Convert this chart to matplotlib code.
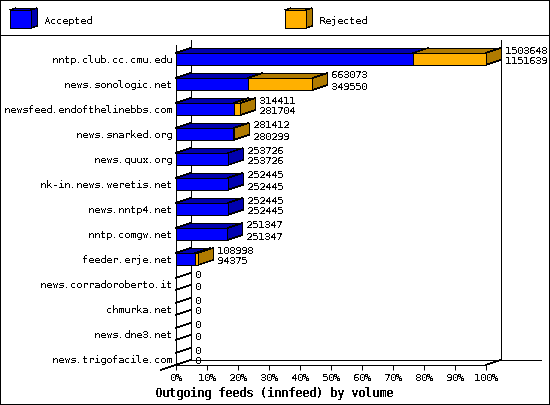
import matplotlib
matplotlib.use('Agg')
from matplotlib import pyplot as plt
from matplotlib.patches import Polygon, Rectangle
import numpy as np

hosts = ["nntp.club.cc.cmu.edu", "news.sonologic.net", "newsfeed.endofthelinebbs.com",
         "news.snarked.org", "news.quux.org", "nk-in.news.weretis.net", "news.nntp4.net",
         "nntp.comgw.net", "feeder.erje.net", "news.corradoroberto.it", "chmurka.net",
         "news.dne3.net", "news.trigofacile.com"]
totals = [1503648, 663073, 314411, 281412, 253726, 252445, 252445, 251347, 108998, 0, 0, 0, 0]
accepted = [1151639, 349550, 281704, 280299, 253726, 252445, 252445, 251347, 94375, 0, 0, 0, 0]
pct_ticks = [0, 10, 20, 30, 40, 50, 60, 70, 80, 90, 100]
legend_names = ["Accepted", "Rejected"]
title = "Outgoing feeds (innfeed) by volume"

BLUE = "#0000ff"
BLUE_D = "#0000b0"
ORANGE = "#ffb000"
ORANGE_D = "#b07b00"

plt.rcParams['font.family'] = ['DejaVu Sans Mono']
plt.rcParams['text.antialiased'] = False
plt.rcParams['text.hinting'] = 'native'
plt.rcParams['text.hinting_factor'] = 1
plt.rcParams['lines.antialiased'] = False
plt.rcParams['patch.antialiased'] = False
plt.rcParams['lines.solid_capstyle'] = 'butt'

W, H = 550, 405
LW = 0.72
SLANT = 0.35
fig = plt.figure(figsize=(W / 100, H / 100), dpi=100, facecolor="white")


def face(axes, pts, color, z=2):
    # fill without outline, then one line per edge so that flat edges snap to a single pixel
    axes.add_patch(Polygon(pts, fc=color, ec="none", zorder=z, clip_on=False))
    for (x0, y0), (x1, y1) in zip(pts, pts[1:] + pts[:1]):
        flat = x0 == x1 or y0 == y1
        axes.plot([x0, x1], [y0, y1], color="black", lw=LW if flat else SLANT, zorder=z, clip_on=False)


# frame and legend are laid out in pixels
bg = fig.add_axes([0, 0, 1, 1])
bg.set_xlim(0, W)
bg.set_ylim(H, 0)
bg.axis("off")
bg.add_patch(Rectangle((0, 0), W - 1, H - 1, fc="white", ec="black", lw=LW))
bg.plot([0, W], [35, 35], color="black", lw=LW)


def legend_box(x, front, side):
    face(bg, [(x, 10), (x + 6, 8), (x + 27, 8), (x + 21, 10)], side)
    face(bg, [(x + 21, 10), (x + 27, 8), (x + 27, 26), (x + 21, 28)], side)
    bg.add_patch(Rectangle((x, 10), 21, 18, fc=front, ec="black", lw=LW, zorder=3))


legend_box(10, BLUE, BLUE_D)
legend_box(285, ORANGE, ORANGE_D)
bg.text(44, 20.6, legend_names[0], fontsize=7.2, va="center")
bg.text(319.5, 20.6, legend_names[1], fontsize=7.2, va="center")
bg.text(274, 393.5, title, fontsize=8.35, fontweight="bold", ha="center", va="center")

# plot axes: front plane 176..486 px, 45..365 px
ax = fig.add_axes([175.6 / W, 1 - 365 / H, 310 / W, 320 / H])
ax.patch.set_alpha(0)
ax.set_xlim(0, 100)
ax.set_ylim(12.24, -0.56)
for s in ["top", "right"]:
    ax.spines[s].set_visible(False)
for s in ["left", "bottom"]:
    ax.spines[s].set_linewidth(LW)

dx = 15 * 100 / 310
dy = 5 / 25
half = 6 / 25

ybot = ax.get_ylim()[0]
ytop = ax.get_ylim()[1]
ax.plot([dx, dx], [ybot - dy, ytop - dy], color="black", lw=LW, clip_on=False, zorder=1)
ax.plot([100 + dx, 100 + dx], [ybot - dy, ytop - dy], color="black", lw=LW, clip_on=False, zorder=1)
ax.plot([dx, 113 + dx], [ybot - dy, ybot - dy], color="black", lw=LW, clip_on=False, zorder=1)
ax.plot([-dx, dx], [ybot + dy, ybot - dy], color="black", lw=SLANT, clip_on=False, zorder=1)
ax.plot([100, 100 + dx], [ybot, ybot - dy], color="black", lw=SLANT, clip_on=False, zorder=1)

top = max(totals)
pos = np.arange(len(hosts))
acc_pct = np.array(accepted) / top * 100
tot_pct = np.array(totals) / top * 100
rej_pct = tot_pct - acc_pct

ax.barh(pos, acc_pct, height=half * 2, color=BLUE, edgecolor="black", linewidth=LW, zorder=3, clip_on=False)
ax.barh(pos, rej_pct, left=acc_pct, height=half * 2, color=ORANGE, edgecolor="black", linewidth=LW, zorder=3, clip_on=False)

for i in pos:
    a, t = acc_pct[i], tot_pct[i]
    up = i - half
    low = i + half
    ax.annotate(str(totals[i]), (t + dx, i), xytext=(4, 8.5), textcoords="offset pixels", fontsize=7.2, va="center", annotation_clip=False)
    ax.annotate(str(accepted[i]), (t + dx, i), xytext=(4, -2.5), textcoords="offset pixels", fontsize=7.2, va="center", annotation_clip=False)
    if t == 0:
        # empty row only leaves the two slanted lines on the wall
        ax.plot([0, dx], [up, up - dy], color="black", lw=SLANT, clip_on=False, zorder=2)
        ax.plot([0, dx], [low, low - dy], color="black", lw=SLANT, clip_on=False, zorder=2)
        continue
    face(ax, [(0, up), (dx, up - dy), (a + dx, up - dy), (a, up)], BLUE_D)
    if t > a:
        face(ax, [(a, up), (a + dx, up - dy), (t + dx, up - dy), (t, up)], ORANGE_D)
    side = ORANGE_D if t > a else BLUE_D
    face(ax, [(t, up), (t + dx, up - dy), (t + dx, low - dy), (t, low)], side)

ax.set_yticks(pos)
ax.set_yticklabels(hosts, fontsize=7.2)
ax.tick_params(axis="y", length=0, pad=2.9)
ax.set_xticks(pct_ticks)
ax.set_xticklabels(["%d%%" % p for p in pct_ticks], fontsize=7.2)
ax.tick_params(axis="x", length=3.6, width=LW, pad=2.2)

fig.savefig("out.png", dpi=100)
